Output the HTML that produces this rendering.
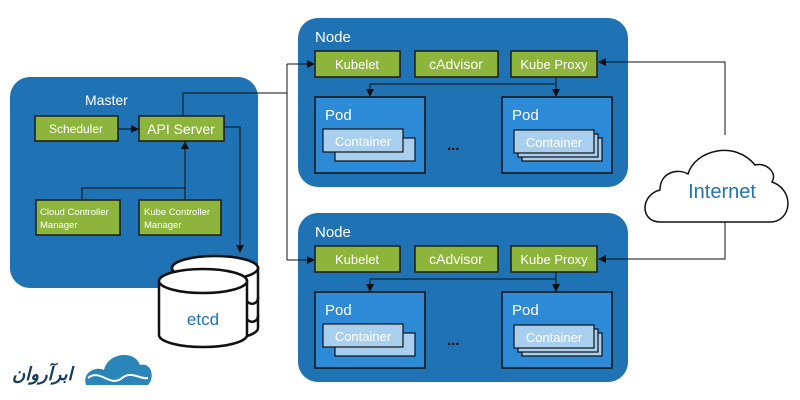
<!DOCTYPE html>
<html><head><meta charset="utf-8"><style>
html,body{margin:0;padding:0;background:#fff;width:800px;height:400px;overflow:hidden}
text{font-family:"Liberation Sans",sans-serif}
</style></head><body>
<svg width="800" height="400" viewBox="0 0 800 400" xmlns="http://www.w3.org/2000/svg">
<defs>
<marker id="a" markerWidth="8" markerHeight="8" refX="7" refY="4" orient="auto" markerUnits="userSpaceOnUse"><path d="M0,0 L8,4 L0,8 z" fill="#111"/></marker>
<g id="node">
<rect x="298" y="18" width="330" height="169" rx="20" fill="#1f72b4"/>
<text x="315" y="42" font-size="15" fill="#fff">Node</text>
<rect x="315" y="51" width="85" height="26" fill="#8db53c" stroke="#1a1a1a" stroke-width="1.5"/>
<text x="357" y="69" font-size="13" fill="#fff" text-anchor="middle">Kubelet</text>
<rect x="415" y="51" width="83" height="26" fill="#8db53c" stroke="#1a1a1a" stroke-width="1.5"/>
<text x="456" y="69" font-size="14" fill="#fff" text-anchor="middle">cAdvisor</text>
<rect x="511" y="51" width="86" height="26" fill="#8db53c" stroke="#1a1a1a" stroke-width="1.5"/>
<text x="554" y="69" font-size="13" fill="#fff" text-anchor="middle">Kube Proxy</text>
<path d="M556,77 V84 M370,84 H556 M370,84 V95 M556,84 V95" stroke="#111" stroke-width="1" fill="none"/>
<path d="M370,90 V96" stroke="#111" marker-end="url(#a)"/>
<path d="M556,90 V96" stroke="#111" marker-end="url(#a)"/>
<rect x="315" y="97" width="110" height="76" fill="#2d8ad6" stroke="#111" stroke-width="1.5"/>
<text x="325" y="120" font-size="15" fill="#fff">Pod</text>
<rect x="335" y="138" width="80" height="23" fill="#a9cfee" stroke="#111" stroke-width="1.2"/>
<rect x="323" y="129" width="80" height="23" fill="#a9cfee" stroke="#111" stroke-width="1.2"/>
<text x="363" y="146" font-size="13" fill="#fff" text-anchor="middle">Container</text>
<text x="447" y="150" font-size="15" fill="#111" font-weight="bold">...</text>
<rect x="502" y="97" width="110" height="76" fill="#2d8ad6" stroke="#111" stroke-width="1.5"/>
<text x="512" y="120" font-size="15" fill="#fff">Pod</text>
<rect x="522" y="138" width="80" height="23" fill="#a9cfee" stroke="#111" stroke-width="1.2"/>
<rect x="518" y="134" width="80" height="23" fill="#a9cfee" stroke="#111" stroke-width="1.2"/>
<rect x="514" y="130" width="80" height="23" fill="#a9cfee" stroke="#111" stroke-width="1.2"/>
<text x="554" y="147" font-size="13" fill="#fff" text-anchor="middle">Container</text>
</g>
</defs>
<use href="#node"/>
<use href="#node" y="195"/>
<!-- master -->
<rect x="10" y="77" width="248" height="211" rx="20" fill="#1f72b4"/>
<text x="85" y="105" font-size="14" fill="#fff">Master</text>
<rect x="35" y="116" width="83" height="25" fill="#8db53c" stroke="#1a1a1a" stroke-width="1.5"/>
<text x="76" y="133" font-size="12" fill="#fff" text-anchor="middle">Scheduler</text>
<rect x="139" y="116" width="85" height="25" fill="#8db53c" stroke="#1a1a1a" stroke-width="1.5"/>
<text x="181" y="134" font-size="14" fill="#fff" text-anchor="middle">API Server</text>
<rect x="36" y="200" width="84" height="35" fill="#8db53c" stroke="#1a1a1a" stroke-width="1.5"/>
<text x="40" y="215" font-size="9.5" fill="#fff">Cloud Controller</text>
<text x="40" y="228" font-size="9.5" fill="#fff">Manager</text>
<rect x="139" y="200" width="82" height="35" fill="#8db53c" stroke="#1a1a1a" stroke-width="1.5"/>
<text x="144" y="215" font-size="9.5" fill="#fff">Kube Controller</text>
<text x="144" y="228" font-size="9.5" fill="#fff">Manager</text>
<path d="M118,129 H138" stroke="#111" marker-end="url(#a)"/>
<path d="M82,200 V188 H185 V142" stroke="#111" fill="none" marker-end="url(#a)"/>
<path d="M185,188 V200" stroke="#111"/>
<path d="M224,127 H240 V252" stroke="#111" fill="none" marker-end="url(#a)"/>
<path d="M183,116 V93 H287 V260" stroke="#111" fill="none"/>
<path d="M287,64 H314" stroke="#111" marker-end="url(#a)"/>
<path d="M287,260 H314" stroke="#111" marker-end="url(#a)"/>
<path d="M287,64 V93" stroke="#111"/>
<!-- etcd -->
<g stroke="#111" stroke-width="2.5" fill="#fff">
<path d="M172,268 V328 A43,12 0 0 0 258,328 V268 Z"/>
<ellipse cx="215" cy="268" rx="43" ry="12"/>
<path d="M159,281 V335 A44,12 0 0 0 247,335 V281 Z"/>
<ellipse cx="203" cy="281" rx="44" ry="12"/>
<path d="M247,301 A6,6 0 0 0 258,297 M247,319 A6,6 0 0 0 258,315" fill="none"/>
</g>
<text x="203" y="325" font-size="17" fill="#1f72b4" text-anchor="middle">etcd</text>
<!-- internet -->
<path d="M725,135 V62 H599" stroke="#111" fill="none" marker-end="url(#a)"/>
<path d="M725,222 V259 H599" stroke="#111" fill="none" marker-end="url(#a)"/>
<path d="M660,222 C640,222 640,195 660,190 C660,172 678,168 688,174 C695,150 735,140 755,165 C765,162 778,172 772,182 C795,190 792,222 770,222 Z" fill="#fff" stroke="#111" stroke-width="1.5"/>
<text x="722" y="198" font-size="20" fill="#1f72b4" text-anchor="middle">Internet</text>
<!-- logo -->
<path d="M86,385 C82,372 96,366 104,370 C108,352 135,350 140,365 C152,362 155,378 148,385 Z" fill="#2a86b9"/>
<path d="M88,378 C100,368 110,388 122,378 C132,370 140,380 148,378" stroke="#fff" stroke-width="2" fill="none"/>
<text x="12" y="380" font-size="18" font-weight="bold" font-style="italic" fill="#173c5c" font-family="DejaVu Sans">ابرآروان</text>
</svg>
</body></html>
